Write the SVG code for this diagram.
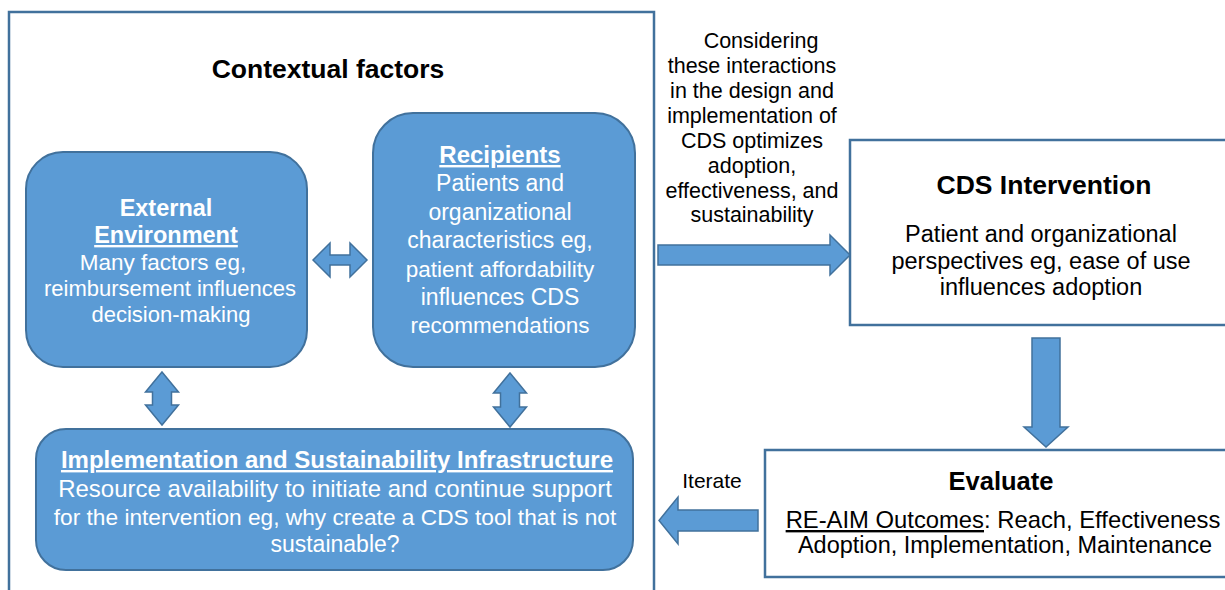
<svg xmlns="http://www.w3.org/2000/svg" width="1225" height="590" viewBox="0 0 1225 590">
<defs>
<style>
.bx{fill:#5B9BD5;stroke:#41719C;stroke-width:2}
.wb{fill:#FFFFFF;stroke:#41719C;stroke-width:2.5}
.ar{fill:#5B9BD5;stroke:#41719C;stroke-width:1.5;stroke-linejoin:miter}
text{font-family:"Liberation Sans",Arial,sans-serif;text-anchor:middle}
.w{fill:#FFFFFF}
.k{fill:#000000}
.b{font-weight:bold}
.u{text-decoration:underline}
</style>
</defs>
<rect width="1225" height="590" fill="#FFFFFF"/>
<g id="contextual-factors">
<rect class="wb" x="9" y="12" width="645" height="600"/>
<text class="k b" x="328" y="78" font-size="26.5">Contextual factors</text>
</g>
<g id="external-environment">
<rect class="bx" x="26" y="152" width="281" height="215" rx="37" ry="37"/>
<text class="w b" x="166" y="216" font-size="23.5">External</text>
<text class="w b u" x="166" y="243" font-size="23.5">Environment</text>
<text class="w" x="163" y="270" font-size="22.5">Many factors eg,</text>
<text class="w" x="170" y="296" font-size="22">reimbursement influences</text>
<text class="w" x="171" y="322" font-size="22">decision-making</text>
</g>
<g id="recipients">
<rect class="bx" x="373" y="113" width="262" height="254" rx="40" ry="40"/>
<text class="w b u" x="500" y="163" font-size="24">Recipients</text>
<text class="w" x="500" y="191" font-size="23">Patients and</text>
<text class="w" x="500" y="220" font-size="23">organizational</text>
<text class="w" x="500" y="248" font-size="23">characteristics eg,</text>
<text class="w" x="500" y="277" font-size="22.5">patient affordability</text>
<text class="w" x="500" y="305" font-size="23">influences CDS</text>
<text class="w" x="500" y="333" font-size="22.5">recommendations</text>
</g>
<g id="implementation-infrastructure">
<rect class="bx" x="36" y="429" width="597" height="141" rx="30" ry="30"/>
<text class="w b u" x="337" y="468" font-size="24">Implementation and Sustainability Infrastructure</text>
<text class="w" x="335" y="497" font-size="24">Resource availability to initiate and continue support</text>
<text class="w" x="335" y="525" font-size="22.7">for the intervention eg, why create a CDS tool that is not</text>
<text class="w" x="335" y="552" font-size="23">sustainable?</text>
</g>
<g id="annotation">
<text class="k" x="761" y="48" font-size="21.5">Considering</text>
<text class="k" x="752" y="72.5" font-size="21.5">these interactions</text>
<text class="k" x="752" y="97.5" font-size="21.5">in the design and</text>
<text class="k" x="752" y="122.5" font-size="21.5">implementation of</text>
<text class="k" x="752" y="147.5" font-size="21.5">CDS optimizes</text>
<text class="k" x="752" y="172.5" font-size="21.5">adoption,</text>
<text class="k" x="752" y="197.5" font-size="21.5">effectiveness, and</text>
<text class="k" x="752" y="222" font-size="21.5">sustainability</text>
</g>
<g id="cds-intervention">
<rect class="wb" x="850" y="140" width="400" height="185"/>
<text class="k b" x="1044" y="194" font-size="26.5">CDS Intervention</text>
<text class="k" x="1041" y="242" font-size="23.5">Patient and organizational</text>
<text class="k" x="1041" y="269" font-size="23.5">perspectives eg, ease of use</text>
<text class="k" x="1041" y="295" font-size="23.5">influences adoption</text>
</g>
<g id="evaluate">
<rect class="wb" x="765" y="450" width="480" height="127"/>
<text class="k b" x="1001" y="490" font-size="25.5">Evaluate</text>
<text class="k" x="1003" y="528" font-size="23.8"><tspan class="u">RE-AIM Outcomes</tspan>: Reach, Effectiveness</text>
<text class="k" x="1005" y="553" font-size="23.5">Adoption, Implementation, Maintenance</text>
</g>
<g id="iterate-label">
<text class="k" x="712" y="488" font-size="21">Iterate</text>
</g>
<g id="connectors">
<polygon class="ar" points="313,260 330,243 330,255 350,255 350,243 367,260 350,277 350,265 330,265 330,277"/>
<polygon class="ar" points="162,372 178.5,392 171.5,392 171.5,405 178.5,405 162,425 145.5,405 152.5,405 152.5,392 145.5,392"/>
<polygon class="ar" points="510,373 526.5,393 519.5,393 519.5,407 526.5,407 510,427 493.5,407 500.5,407 500.5,393 493.5,393"/>
<polygon class="ar" points="658,245 830,245 830,235 850,255 830,275 830,265 658,265"/>
<polygon class="ar" points="1032,338 1060,338 1060,427 1068,427 1046,447 1024,427 1032,427"/>
<polygon class="ar" points="758,510 678,510 678,497 659,520.5 678,544 678,531 758,531"/>
</g>
</svg>
